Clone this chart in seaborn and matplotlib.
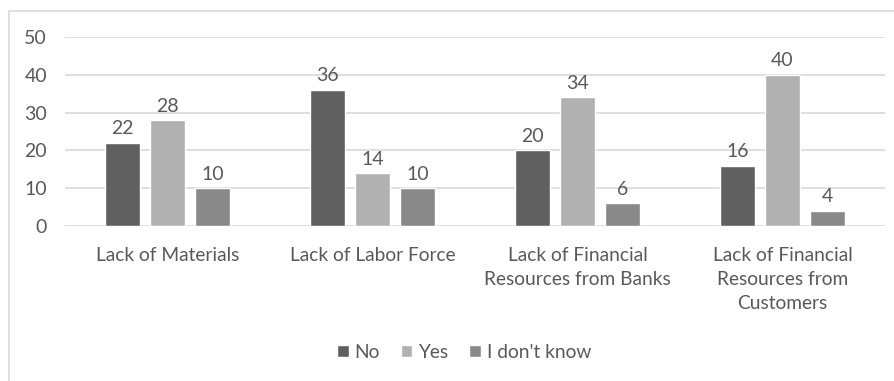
import matplotlib
matplotlib.use("Agg")
import matplotlib.pyplot as plt
import seaborn as sns
import pandas as pd
from matplotlib.patches import Rectangle

categories = [
    "Lack of Materials",
    "Lack of Labor Force",
    "Lack of Financial\nResources from Banks",
    "Lack of Financial\nResources from\nCustomers",
]
answers = ["No", "Yes", "I don't know"]
no_vals = [22, 36, 20, 16]
yes_vals = [28, 14, 34, 40]
idk_vals = [10, 10, 6, 4]
y_ticks = [0, 10, 20, 30, 40, 50]

rows = []
for i, cat in enumerate(categories):
    for ans, vals in zip(answers, [no_vals, yes_vals, idk_vals]):
        rows.append({"category": cat, "answer": ans, "value": vals[i]})
df = pd.DataFrame(rows)

sns.set_theme(style="white")
plt.rcParams["font.family"] = ["Lato", "DejaVu Sans"]
text_color = "#595959"

W, H = 895, 381
fig = plt.figure(figsize=(W / 100, H / 100), dpi=100)
ax = fig.add_axes([65 / W, 1 - 226 / H, (885 - 65) / W, (226 - 37) / H])

palette = {"No": "#606060", "Yes": "#b1b1b1", "I don't know": "#898989"}
sns.barplot(data=df, x="category", y="value", hue="answer", hue_order=answers,
            palette=palette, width=0.66, gap=0.22, saturation=1, ax=ax,
            legend=True, zorder=3)

for cont in ax.containers:
    ax.bar_label(cont, padding=4, fontsize=14, color=text_color)

ax.set_ylim(0, 50)
ax.set_yticks(y_ticks)
ax.set_xlim(-0.5, len(categories) - 0.5)
ax.yaxis.grid(True, color="#d9d9d9", linewidth=1.2, zorder=0)
ax.set_axisbelow(True)
for s in ax.spines.values():
    s.set_visible(False)
ax.set_xlabel("")
ax.set_ylabel("")
ax.tick_params(axis="y", length=0, pad=13, labelsize=14, labelcolor=text_color)
ax.tick_params(axis="x", length=0, pad=15, labelsize=13.8, labelcolor=text_color)
for lbl in ax.get_xticklabels():
    lbl.set_linespacing(1.5)
    lbl.set_verticalalignment("top")

handles, labels = ax.get_legend_handles_labels()
ax.legend_.remove()
fig.legend(handles, labels, loc="center", bbox_to_anchor=(464 / W, 1 - 352 / H),
           ncol=3, frameon=False, fontsize=13.8, labelcolor=text_color,
           handlelength=0.6, handleheight=0.6, handletextpad=0.3,
           columnspacing=1.1)

# light frame around the chart area
fig.patches.append(Rectangle((9 / W, -0.1), 1.2, 1 - 11 / H + 0.1,
                             transform=fig.transFigure, fill=False,
                             edgecolor="#d9d9d9", linewidth=1.2))

fig.savefig("out.png", dpi=100, facecolor="white")
